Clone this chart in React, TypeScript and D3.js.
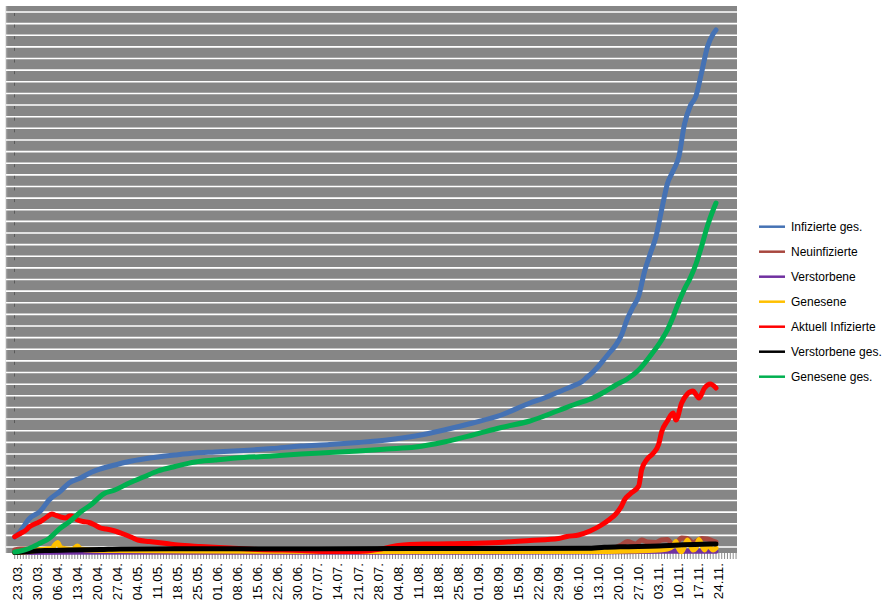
import React from "react";
import * as d3 from "d3";

// Category axis: one category per reported day (23.03. .. 24.11.), a label every 7 categories
const tickLabels = ["23.03.","30.03.","06.04.","13.04.","20.04.","27.04.","04.05.","11.05.","18.05.","25.05.","01.06.","08.06.","15.06.","22.06.","30.06.","07.07.","14.07.","21.07.","28.07.","04.08.","11.08.","18.08.","25.08.","01.09.","08.09.","15.09.","22.09.","29.09.","06.10.","13.10.","20.10.","27.10.","03.11.","10.11.","17.11.","24.11."];
const labelEvery = 7;
const categoryCount = 253; // axis extends a few empty categories past the last date

// [categoryIndex, value]
const infizierteGes: [number, number][] = [[0,155],[2,215],[5,335],[9,415],[12,525],[16,615],[19,695],[23,745],[27,805],[31,845],[35,875],[40,910],[45,935],[50,955],[56,975],[63,995],[70,1005],[80,1020],[90,1040],[100,1065],[110,1080],[120,1100],[130,1125],[140,1165],[150,1225],[160,1295],[170,1375],[180,1495],[185,1545],[190,1605],[195,1665],[198,1705],[200,1755],[202,1805],[204,1865],[206,1935],[208,2005],[210,2075],[212,2175],[214,2335],[216,2455],[218,2565],[220,2805],[222,2985],[224,3155],[226,3425],[228,3685],[230,3815],[232,3955],[234,4285],[236,4465],[238,4565],[240,4805],[242,5055],[244,5185],[245,5225]];
const neuinfizierte: [number, number][] = [[0,25],[2,35],[4,35],[6,30],[9,25],[14,15],[25,10],[60,5],[150,5],[200,10],[208,35],[212,75],[214,110],[217,85],[219,125],[221,105],[224,100],[226,125],[228,130],[230,75],[231,90],[233,145],[235,140],[237,95],[238,110],[240,140],[242,135],[244,115],[245,105]];
const verstorbene: [number, number][] = [[0,0],[50,5],[200,5],[218,10],[230,12],[245,12]];
const genesene: [number, number][] = [[0,0],[5,10],[9,30],[11,35],[13,40],[14,75],[15,100],[16,50],[18,35],[20,30],[22,65],[23,35],[26,25],[35,20],[60,15],[120,10],[200,10],[215,15],[225,25],[228,35],[230,65],[231,110],[232,35],[233,8],[235,125],[237,25],[238,45],[239,130],[241,25],[242,75],[244,25],[245,45]];
const aktuellInfizierte: [number, number][] = [[0,158],[2,190],[4,225],[5,255],[7,285],[9,310],[11,350],[13,385],[14,375],[16,355],[18,345],[19,365],[20,365],[22,325],[24,310],[26,300],[28,275],[30,245],[32,235],[35,215],[38,185],[41,150],[43,125],[47,110],[53,90],[57,75],[65,60],[75,45],[85,30],[100,20],[110,10],[120,10],[128,35],[134,70],[145,85],[157,90],[169,100],[180,120],[190,140],[193,160],[197,175],[201,215],[205,275],[208,335],[210,385],[212,465],[213,525],[215,585],[218,665],[219,825],[221,935],[223,990],[225,1085],[226,1205],[228,1315],[230,1395],[231,1325],[233,1495],[235,1585],[237,1615],[238,1580],[239,1545],[241,1645],[243,1685],[245,1645]];
const verstorbeneGes: [number, number][] = [[0,0],[3,5],[7,15],[12,20],[19,25],[30,30],[37,35],[70,37],[140,40],[200,42],[206,52],[212,58],[225,65],[232,75],[240,82],[245,85]];
const geneseneGes: [number, number][] = [[0,5],[2,15],[5,40],[9,95],[12,140],[16,245],[19,305],[23,405],[27,485],[31,585],[35,625],[40,695],[45,755],[50,815],[56,860],[63,905],[70,925],[80,950],[90,965],[100,985],[110,1000],[120,1015],[130,1035],[140,1055],[150,1105],[160,1175],[170,1250],[180,1315],[190,1420],[196,1485],[202,1545],[206,1605],[210,1675],[214,1735],[218,1825],[222,1965],[226,2125],[228,2225],[230,2355],[232,2505],[234,2635],[236,2745],[238,2885],[240,3065],[242,3265],[244,3425],[245,3495]];

const seriesNames = ["Infizierte ges.","Neuinfizierte","Verstorbene","Genesene","Aktuell Infizierte","Verstorbene ges.","Genesene ges."];
const seriesColors = ["#4572B4","#A8473F","#7030A0","#FFC000","#FF0000","#000000","#00B050"];
const seriesData = [infizierteGes, neuinfizierte, verstorbene, genesene, aktuellInfizierte, verstorbeneGes, geneseneGes];

const yMax = 5465;
const stripeStart = 55;
const stripeStep = 116.3;
const stripeCount = 47;

export default function App() {
  const W = 889, H = 614;
  const plot = { left: 6, right: 737, top: 6, bottom: 553 };
  const axisX = 14.5;
  const x = d3.scaleLinear().domain([0, 245]).range([14.7, 716]);
  const y = d3.scaleLinear().domain([0, yMax]).range([552.5, 6]);
  const line = d3.line<[number, number]>()
    .x(d => x(d[0]))
    .y(d => y(d[1]))
    .curve(d3.curveMonotoneX);
  const stripes = d3.range(stripeCount).map(k => y(stripeStart + k * stripeStep));
  const catTicks = d3.range(categoryCount).map(i => x(i)).filter(v => v <= plot.right);
  const legendY = d3.scaleLinear().domain([0, 6]).range([226.7, 376.7]);
  const font = "'Liberation Sans', Arial, sans-serif";

  return (
    <svg width={W} height={H} style={{ position: "fixed", left: 0, top: 0, background: "#fff" }}>
      <rect x={plot.left} y={plot.top} width={plot.right - plot.left} height={plot.bottom - plot.top} fill="#868686" />
      <line x1={plot.left + 0.5} x2={plot.left + 0.5} y1={plot.top} y2={plot.bottom} stroke="#a2a2a2" strokeWidth={1.5} />
      {stripes.map((sy, k) => (
        <g key={"s" + k}>
          <line x1={plot.left} x2={plot.right} y1={sy} y2={sy} stroke="#ffffff" strokeWidth={1.6} />
          <line x1={axisX} x2={axisX} y1={sy + 1} y2={sy + 4} stroke="#5a5a5a" strokeWidth={1} />
        </g>
      ))}
      {catTicks.map((tx, i) => (
        <line key={"t" + i} x1={tx} x2={tx} y1={plot.bottom} y2={plot.bottom + 6} stroke="#8a8a8a" strokeWidth={1} />
      ))}
      {tickLabels.map((lab, k) => {
        const tx = x(k * labelEvery);
        return (
          <text key={"l" + k} transform={`translate(${tx},563) rotate(-90)`} dy={7.2}
            textAnchor="end" fontFamily={font} fontSize={13.4} fill="#000">{lab}</text>
        );
      })}
      {seriesData.map((d, k) => (
        <path key={"p" + k} d={line(d) || ""} fill="none" stroke={seriesColors[k]} strokeWidth={5}
          strokeLinejoin="round" strokeLinecap="round" />
      ))}
      {seriesNames.map((n, k) => (
        <g key={"g" + k}>
          <line x1={759} x2={785} y1={legendY(k)} y2={legendY(k)} stroke={seriesColors[k]} strokeWidth={2.5} />
          <text x={791} y={legendY(k)} dy="0.35em" fontFamily={font} fontSize={12} fill="#000">{n}</text>
        </g>
      ))}
    </svg>
  );
}
